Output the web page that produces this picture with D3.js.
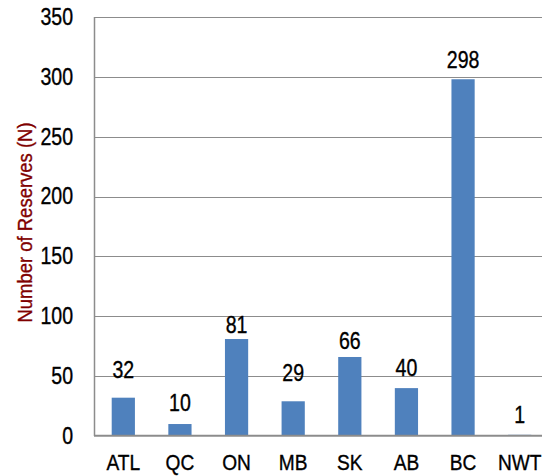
<!DOCTYPE html>
<html>
<head>
<meta charset="utf-8">
<script src="https://cdn.jsdelivr.net/npm/d3@7/dist/d3.min.js"></script>
<style>
  html, body { margin: 0; padding: 0; background: #fff; }
  svg { display: block; }
  text { font-family: "Liberation Sans", Arial, sans-serif; }
</style>
</head>
<body>
<svg id="chart" width="542" height="476"></svg>
<script>
// Reserves per region
const regions = ["ATL", "QC", "ON", "MB", "SK", "AB", "BC", "NWT"];
const reserves = [32, 10, 81, 29, 66, 40, 298, 1];
const yTicks = [0, 50, 100, 150, 200, 250, 300, 350];
// extra lift (px) for each hand-placed value label above its bar
const labelLift = [20, 13, 6, 20, 8, 12, 11, 12];

const svg = d3.select("#chart");
const margin = { top: 17, right: -6, bottom: 40, left: 95 };
const W = 542, H = 476;
const x0 = margin.left, x1 = W - margin.right;
const y0 = H - margin.bottom, y1 = margin.top;

const x = d3.scaleBand().domain(regions).range([x0, x1]).paddingInner(0.59).paddingOuter(0.295);
const y = d3.scaleLinear().domain([0, 350]).range([y0, y1]);

// condensed look: squeeze glyphs horizontally around each text's anchor
function squeeze(sel, k) {
  sel.each(function () {
    const t = d3.select(this);
    const tx = +(t.attr("x") || 0);
    t.attr("x", tx / k).attr("transform", `scale(${k},1)`);
  });
}

// slightly heavier glyphs
function heavy(sel, color) {
  sel.attr("stroke", color).attr("stroke-width", 0.35);
}

// horizontal gridlines
svg.append("g")
  .selectAll("line")
  .data(yTicks.filter(d => d > 0))
  .join("line")
  .attr("x1", x0).attr("x2", x1)
  .attr("y1", d => Math.round(y(d)) + 0.5).attr("y2", d => Math.round(y(d)) + 0.5)
  .attr("stroke", "#8c8c8c").attr("stroke-width", 1.2);

// y axis tick labels
const yAxis = d3.axisLeft(y).tickValues(yTicks).tickSize(0).tickPadding(22);
const gy = svg.append("g").attr("transform", `translate(${x0},0)`).call(yAxis);
gy.select(".domain").remove();
gy.selectAll("text").attr("font-size", 23).attr("fill", "#000")
  .style("font-family", null).call(squeeze, 0.85).call(heavy, "#000");

// bars
svg.append("g")
  .selectAll("rect")
  .data(reserves)
  .join("rect")
  .attr("x", (d, i) => x(regions[i]))
  .attr("width", x.bandwidth())
  .attr("y", d => y(d))
  .attr("height", d => y(0) - y(d))
  .attr("fill", "#4f81bd");

// value labels
svg.append("g")
  .selectAll("g")
  .data(reserves)
  .join("g")
  .attr("transform", (d, i) => `translate(${x(regions[i]) + x.bandwidth() / 2},${y(d) - labelLift[i]})`)
  .append("text")
  .attr("text-anchor", "middle")
  .attr("font-size", 23)
  .attr("fill", "#000")
  .text(d => d)
  .call(squeeze, 0.85)
  .call(heavy, "#000");

// axis lines
svg.append("line").attr("x1", x0 - 0.5).attr("x2", x0 - 0.5).attr("y1", y1).attr("y2", y0)
  .attr("stroke", "#8c8c8c").attr("stroke-width", 1.5);
svg.append("line").attr("x1", x0 - 1).attr("x2", x1).attr("y1", y0 - 0.3).attr("y2", y0 - 0.3)
  .attr("stroke", "#8c8c8c").attr("stroke-width", 2);

// category labels
const xAxis = d3.axisBottom(x).tickSize(0).tickPadding(18);
const gx = svg.append("g").attr("transform", `translate(0,${y0})`).call(xAxis);
gx.select(".domain").remove();
gx.selectAll("text").attr("font-size", 22).attr("fill", "#000")
  .style("font-family", null).call(squeeze, 0.87).call(heavy, "#000");

// y axis title
svg.append("text")
  .attr("transform", `translate(32,${(y0 + y1) / 2 - 4}) rotate(-90) scale(0.88,1)`)
  .attr("text-anchor", "middle")
  .attr("font-size", 21)
  .attr("fill", "#7f0000")
  .call(heavy, "#7f0000")
  .text("Number of Reserves (N)");
</script>
</body>
</html>
